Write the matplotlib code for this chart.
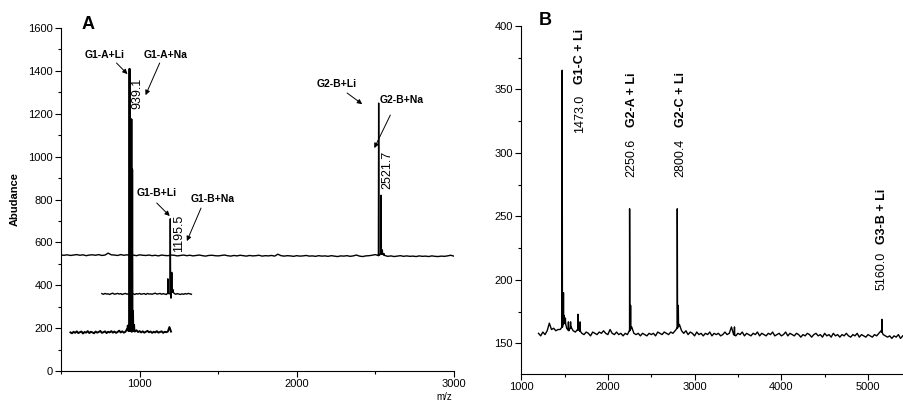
import numpy as np
import matplotlib
matplotlib.use('Agg')
import matplotlib.pyplot as plt
from matplotlib.ticker import MultipleLocator

plt.rcParams['font.family'] = ['Liberation Sans', 'DejaVu Sans']

# ---- panel A : three stacked spectra ----
# bottom trace (G1-A), baseline sampled every 10 m/z from 560
a1_start, a1_step = 560, 10
a1_base = [180, 176, 183, 178, 185, 177, 181, 184, 175, 182, 179, 186, 177, 183, 180, 176, 184, 179, 182, 187,
           178, 181, 185, 177, 183, 180, 186, 179, 184, 178, 182, 188, 180, 185, 179, 183, 195, 186, 190, 184,
           188, 184, 190, 182, 186, 180, 185, 179, 183, 187, 181, 184, 178, 183, 180, 186, 179, 182, 185, 178,
           183, 181, 184, 205, 184]
a1_peak_mz = [925, 936, 948, 953, 958, 965]
a1_peak_h = [212, 1410, 1175, 940, 280, 215]

# middle trace (G1-B), every 10 m/z from 760
a2_start, a2_step = 760, 10
a2_base = [361, 358, 362, 359, 360, 357, 361, 363, 358, 360, 362, 359, 361, 357, 360, 362, 358, 361, 359, 363,
           360, 357, 361, 359, 362, 358, 360, 361, 357, 362, 359, 360, 358, 361, 363, 359, 360, 362, 358, 361,
           359, 357, 362, 360, 365, 370, 362, 358, 361, 359, 357, 360, 358, 361, 359, 362, 360, 358]
a2_peak_mz = [1180, 1195.5, 1200, 1205, 1212]
a2_peak_h = [430, 710, 340, 460, 380]

# top trace (G2-B), every 20 m/z from 500
a3_start, a3_step = 500, 20
a3_base = [541, 540, 542, 539, 541, 543, 540, 542, 538, 541,
           542, 540, 543, 539, 541, 550, 542, 541, 539, 543,
           540, 542, 539, 541, 538, 542, 540, 539, 541, 538,
           540, 537, 541, 539, 538, 541, 540, 537, 539, 541,
           538, 540, 537, 539, 541, 538, 536, 539, 540, 538,
           537, 539, 541, 538, 536, 539, 537, 540, 538, 536,
           539, 537, 538, 540, 536, 538, 537, 539, 536, 545,
           538, 536, 538, 537, 535, 538, 536, 537, 539, 536,
           537, 535, 538, 536, 537, 535, 538, 536, 534, 537,
           536, 538, 535, 537, 541, 536, 534, 537, 538, 540,
           543, 538, 548, 539, 535, 537, 534, 536, 538, 535,
           537, 535, 536, 534, 537, 535, 536, 534, 537, 535,
           534, 536, 535, 537, 540, 536]
a3_peak_mz = [2521.7, 2537, 2545, 2555]
a3_peak_h = [1250, 820, 565, 548]

# ---- panel B : single spectrum, every 25 m/z from 1200 ----
b_start, b_step = 1200, 25
b_base = [158, 156, 159, 157, 160, 166, 161, 162, 160, 161,
          161, 163, 168, 162, 160, 163, 160, 159, 161, 160,
          158, 157, 159, 158, 156, 159, 158, 157, 159, 158,
          160, 158, 157, 161, 158, 157, 159, 157, 158, 156,
          158, 157, 160, 163, 158, 157, 158, 156, 158, 157,
          156, 158, 157, 158, 156, 159, 158, 157, 159, 158,
          157, 159, 158, 160, 162, 165, 160, 158, 160, 157,
          159, 158, 156,
          159, 157, 158, 156, 158, 157, 159, 156, 158, 157,
          158, 156, 157, 159, 157, 158, 163, 157, 156, 158,
          157, 159, 156, 158, 157, 156, 158, 157, 159, 156,
          158, 157, 156, 158, 157, 159, 156, 157, 158, 156,
          157, 159, 156, 158, 157, 156, 158, 157, 155, 157,
          156, 158, 157, 155, 157, 158, 156, 157, 155, 158,
          156, 157, 155, 158, 156, 157, 155, 157, 156, 158,
          156, 155, 157, 156, 158, 155, 157, 156, 155, 157,
          156, 155, 157, 156, 158, 160, 157, 156, 155, 156,
          154, 156, 155, 157, 154, 156]
b_peak_mz = [1473.0, 1488, 1495, 1510, 1545, 1570, 1655, 1680, 2250.6, 2262, 2800.4, 2812, 3460, 5160.0]
b_peak_h = [365, 190, 172, 170, 167, 167, 173, 167, 256, 180, 256, 180, 163, 169]


def spectrum(start, step, base, peak_mz, peak_h, w):
    # baseline grid plus sharp peaks, merged and sorted by m/z
    x = start + step * np.arange(len(base))
    y = np.array(base, dtype=float)
    px, py = [], []
    for m, h in zip(peak_mz, peak_h):
        b = np.interp(m, x, y)
        px += [m - w, m, m + w]
        py += [b, h, b]
    xs = np.concatenate([x, px])
    ys = np.concatenate([y, py])
    order = np.argsort(xs, kind='stable')
    return xs[order], ys[order]


fig = plt.figure(figsize=(9.04, 4.03), dpi=100)
axA = fig.add_axes([0.0675, 0.0794, 0.4345, 0.851])
axB = fig.add_axes([0.5765, 0.072, 0.4235, 0.864])

for ax in (axA, axB):
    ax.spines['top'].set_visible(False)
    ax.spines['right'].set_visible(False)
    ax.tick_params(which='major', direction='out', length=4, width=0.8, labelsize=8, pad=2)
    ax.tick_params(which='minor', direction='out', length=2, width=0.8)

# panel A
for (s, st, b, pm, ph, lw) in [(a3_start, a3_step, a3_base, a3_peak_mz, a3_peak_h, 1.0),
                               (a2_start, a2_step, a2_base, a2_peak_mz, a2_peak_h, 1.0),
                               (a1_start, a1_step, a1_base, a1_peak_mz, a1_peak_h, 1.4)]:
    x, y = spectrum(s, st, b, pm, ph, 2)
    axA.plot(x, y, color='black', lw=lw)

axA.set_xlim(500, 3000)
axA.set_ylim(0, 1600)
axA.xaxis.set_major_locator(MultipleLocator(1000))
axA.xaxis.set_minor_locator(MultipleLocator(500))
axA.yaxis.set_major_locator(MultipleLocator(200))
axA.yaxis.set_minor_locator(MultipleLocator(100))
axA.set_ylabel('Abudance', fontsize=8, fontweight='bold', labelpad=6)

arrow = dict(arrowstyle='-|>', color='black', lw=0.7, mutation_scale=7, shrinkA=0, shrinkB=0)
labs = [('G1-A+Li', (776, 1474), (853, 1437), (923, 1385)),
        ('G1-A+Na', (1167, 1474), (1128, 1437), (1038, 1287)),
        ('G1-B+Li', (1109, 830), (1109, 784), (1192, 723)),
        ('G1-B+Na', (1468, 802), (1391, 760), (1301, 606)),
        ('G2-B+Li', (2256, 1338), (2321, 1297), (2417, 1245)),
        ('G2-B+Na', (2667, 1264), (2596, 1194), (2494, 1040))]
for t, pos, a0, a1 in labs:
    axA.text(pos[0], pos[1], t, fontsize=7.5, fontweight='bold', ha='center', va='center')
    axA.annotate('', xy=a1, xytext=a0, arrowprops=arrow)

for t, pos in [('939.1', (987, 1297)), ('1195.5', (1250, 643)), ('2521.7', (2577, 938))]:
    axA.text(pos[0], pos[1], t, fontsize=9, rotation=90, ha='center', va='center')

# panel B
x, y = spectrum(b_start, b_step, b_base, b_peak_mz, b_peak_h, 3)
axB.plot(x, y, color='black', lw=1.0)
axB.set_xlim(1000, 5415)
axB.set_ylim(126, 400)
axB.xaxis.set_major_locator(MultipleLocator(1000))
axB.xaxis.set_minor_locator(MultipleLocator(500))
axB.yaxis.set_major_locator(MultipleLocator(50))
axB.yaxis.set_minor_locator(MultipleLocator(25))

b_labels = [('1473.0', 'G1-C + Li', 1678, 316, 354),
            ('2250.6', 'G2-A + Li', 2276, 281, 320),
            ('2800.4', 'G2-C + Li', 2839, 281, 320),
            ('5160.0', 'G3-B + Li', 5161, 192, 228)]
for num, name, xm, y0, y1 in b_labels:
    axB.text(xm, y0, num, fontsize=9, rotation=90, ha='center', va='bottom')
    axB.text(xm, y1, name, fontsize=9, fontweight='bold', rotation=90, ha='center', va='bottom')

fig.text(0.097, 0.938, 'A', fontsize=13, fontweight='bold', ha='center', va='center')
fig.text(0.603, 0.95, 'B', fontsize=13, fontweight='bold', ha='center', va='center')
fig.text(0.492, 0.002, 'm/z', fontsize=7, ha='center', va='bottom')

fig.savefig('out.png', dpi=100)
